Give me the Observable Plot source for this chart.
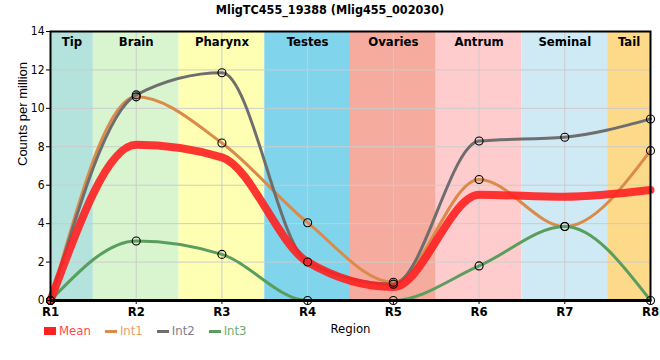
<!DOCTYPE html>
<html>
<head>
<meta charset="utf-8">
<script src="https://cdn.jsdelivr.net/npm/d3@7"></script>
<script src="https://cdn.jsdelivr.net/npm/@observablehq/plot@0.6"></script>
<style>
  body { margin: 0; background: #fff; position: relative; width: 660px; height: 360px; overflow: hidden; }
  #title { height: 20px; line-height: 20px; text-align: center; font-family: "Liberation Sans Narrow", "Arial Narrow", "DejaVu Sans Condensed", sans-serif; font-weight: bold; font-size: 12.5px; color: #000; }
  #chart { height: 330px; }
  #legend { position: absolute; left: 44px; top: 323px; display: flex; align-items: center; font-family: "Liberation Sans Narrow", "Arial Narrow", "DejaVu Sans Condensed", sans-serif; font-size: 13px; line-height: 16px; }
  .item { display: flex; align-items: center; margin-right: 14px; }
  .sw { display: inline-block; width: 12px; margin-right: 3px; }
  svg [aria-label="x-axis tick label"] text { font-weight: bold; }
</style>
</head>
<body>
<div id="title"></div>
<div id="chart"></div>
<div id="legend"></div>
<script>
const title = "MligTC455_19388 (Mlig455_002030)";
const regionIdx = [1, 2, 3, 4, 5, 6, 7, 8];
const regionLabels = ["R1", "R2", "R3", "R4", "R5", "R6", "R7", "R8"];
const bandNames = ["Tip", "Brain", "Pharynx", "Testes", "Ovaries", "Antrum", "Seminal", "Tail"];
const bandColors = ["#b4e2dd", "#d8f5cf", "#ffffb4", "#80d4eb", "#f5ac9f", "#ffcccd", "#cfeaf4", "#fdd98a"];
const yTicks = [0, 2, 4, 6, 8, 10, 12, 14];
const meanVals = [0, 8.1, 7.45, 2.0, 0.7, 5.5, 5.4, 5.75];
const int1Vals = [0, 10.6, 8.2, 4.05, 0.95, 6.3, 3.85, 7.8];
const int2Vals = [0, 10.7, 11.85, 2.0, 0.85, 8.3, 8.5, 9.45];
const int3Vals = [0, 3.1, 2.4, 0, 0, 1.8, 3.85, 0];
const seriesNames = ["Mean", "Int1", "Int2", "Int3"];
const seriesColors = ["#ff2020", "#dc8a4a", "#6e6e6e", "#5a9e5e"];
const legendTextColors = ["#ff4a4a", "#e8a064", "#7d7d8a", "#6aae6e"];

const font = '"Liberation Sans Narrow", "Arial Narrow", "DejaVu Sans Condensed", sans-serif';
document.getElementById("title").textContent = title;

const bands = regionIdx.map((r, i) => ({
  name: bandNames[i], color: bandColors[i],
  x1: Math.max(regionIdx[0], r - 0.5), x2: Math.min(regionIdx[regionIdx.length - 1], r + 0.5)
}));
const toRows = vals => regionIdx.map((r, i) => ({x: r, y: vals[i]}));
const intSeries = [int1Vals, int2Vals, int3Vals];

const marks = [
  Plot.rect(bands, {x1: "x1", x2: "x2", y1: yTicks[0], y2: yTicks[yTicks.length - 1], fill: "color"}),
  Plot.ruleY(yTicks.slice(1, -1), {stroke: "#cccccc", strokeWidth: 1}),
  Plot.ruleX(regionIdx.slice(1, -1), {stroke: "#cccccc", strokeWidth: 1}),
  Plot.text(bands, {x: d => (d.x1 + d.x2) / 2, y: yTicks[yTicks.length - 1], text: "name", dy: 10, fontWeight: "bold", fontSize: 13, fill: "#000", fontFamily: font})
];
intSeries.forEach((vals, k) => {
  marks.push(Plot.line(toRows(vals), {x: "x", y: "y", stroke: seriesColors[k + 1], strokeWidth: 3, curve: "monotone-x"}));
});
marks.push(Plot.line(toRows(meanVals), {x: "x", y: "y", stroke: seriesColors[0], strokeWidth: 8, strokeOpacity: 0.9, curve: "monotone-x"}));
intSeries.forEach((vals) => {
  marks.push(Plot.dot(toRows(vals), {x: "x", y: "y", r: 4, stroke: "#000", strokeWidth: 1.1, fill: "none"}));
});
marks.push(
  Plot.frame({stroke: "#000", strokeWidth: 2}),
  Plot.ruleY([0], {stroke: "#000", strokeWidth: 3}),
  Plot.axisX({ticks: regionIdx, tickFormat: (d) => regionLabels[regionIdx.indexOf(d)], tickSize: 4, tickPadding: 2, fontSize: 13, label: null, fontFamily: font}),
  Plot.axisY({ticks: yTicks, tickSize: 4, tickPadding: 2, fontSize: 12, label: null, fontFamily: font}),
  Plot.text(["Counts per million"], {frameAnchor: "left", dx: -28, rotate: -90, text: d => d, fontSize: 13, fill: "#000", fontFamily: '"Liberation Sans", Arial, sans-serif'}),
  Plot.text(["Region"], {frameAnchor: "bottom", dy: 32, text: d => d, fontSize: 13, fill: "#000", fontFamily: font})
);

const chart = Plot.plot({
  width: 660, height: 330,
  marginLeft: 50, marginRight: 10, marginTop: 11, marginBottom: 50,
  x: {domain: [regionIdx[0], regionIdx[regionIdx.length - 1]]},
  y: {domain: [yTicks[0], yTicks[yTicks.length - 1]]},
  color: {type: "identity"},
  style: {fontFamily: font, background: "transparent", overflow: "visible"},
  marks
});
document.getElementById("chart").append(chart);

const legend = document.getElementById("legend");
seriesNames.forEach((n, i) => {
  const it = document.createElement("div");
  it.className = "item";
  const sw = document.createElement("span");
  sw.className = "sw";
  sw.style.height = i === 0 ? "8px" : "3px";
  sw.style.background = seriesColors[i];
  const tx = document.createElement("span");
  tx.textContent = n;
  tx.style.color = legendTextColors[i];
  it.append(sw, tx);
  legend.append(it);
});
</script>
</body>
</html>
